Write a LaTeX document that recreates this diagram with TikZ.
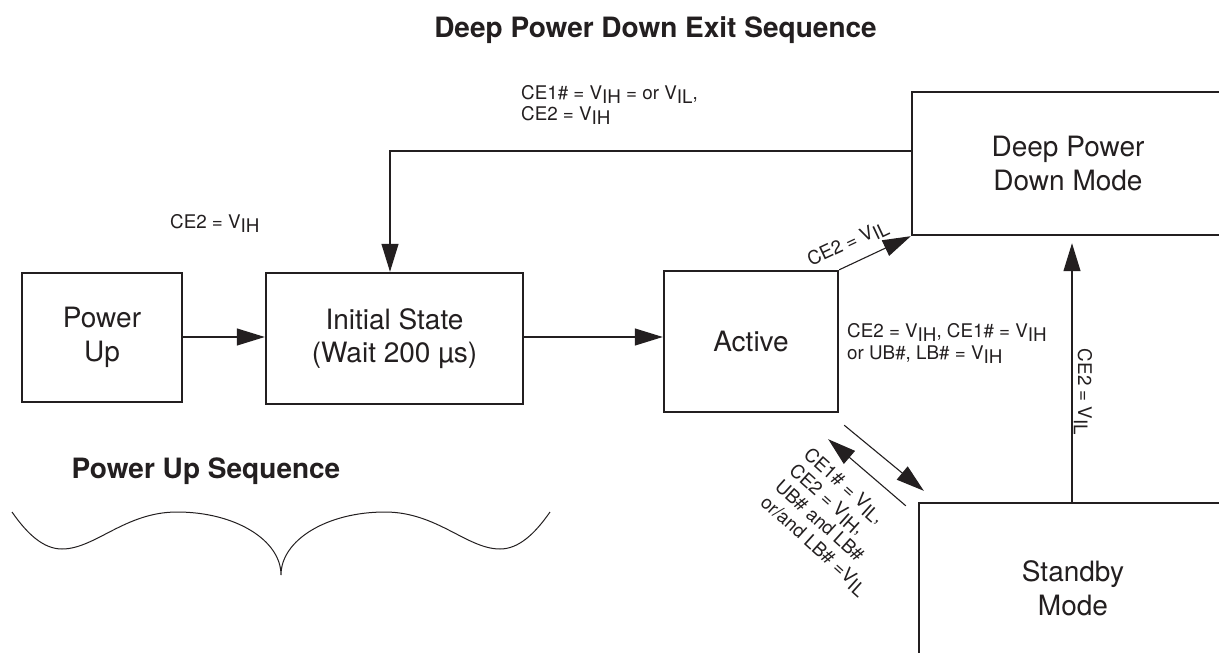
\documentclass[tikz,border=0pt]{standalone}
\usepackage{fontspec}
\setmainfont{TeX Gyre Heros}
\usetikzlibrary{arrows.meta,calc}
\definecolor{ink}{HTML}{231F20}
\newcommand{\lw}[1]{\raisebox{-0.22em}{#1}}
\tikzset{
  boxnode/.style={draw=ink, line width=2.4pt, align=center, text=ink, inner sep=0pt,
    font=\fontsize{28}{33.5}\selectfont},
  lbl/.style={text=ink, inner sep=0pt, align=left, font=\fontsize{18.8}{21.5}\selectfont},
  ttl/.style={text=ink, inner sep=0pt, font=\fontsize{28}{33}\selectfont\bfseries},
  arr/.style={draw=ink, line width=1.1pt, -{Triangle[length=28pt,width=17pt]}},
  thin/.style={draw=ink, line width=1.1pt}
}
\begin{document}
\begin{tikzpicture}[x=1pt,y=-1pt]
\useasboundingbox (0,0) rectangle (1219,653);
\fill[white] (0,0) rectangle (1219,653);
\clip (0,0) rectangle (1219,653);

% titles
\node[ttl, anchor=base] (t1) at (655.5,37) {Deep Power Down Exit Sequence};
\node[ttl, anchor=base] (t2) at (206,478) {Power Up Sequence};

% boxes
\node[boxnode, minimum width=160pt, minimum height=129pt] (pu) at (102,337.5) {Power\\Up};
\node[boxnode, minimum width=257pt, minimum height=131pt] (init) at (394.5,338.5) {Initial State\\(Wait 200 µs)};
\node[boxnode, minimum width=174pt, minimum height=141pt] (act) at (751,341.5) {Active};
\node[boxnode, minimum width=312pt, minimum height=143pt] (dpd) at (1068,163.5) {Deep Power\\Down Mode};
\node[boxnode, minimum width=308pt, minimum height=170pt] (sb) at (1073,588) {Standby\\Mode};

% connectors
\draw[arr] (pu.east |- 0,337) -- (init.west |- 0,337);
\draw[arr] (init.east |- 0,337) -- (act.west |- 0,337);
\draw[arr] ([yshift=12.5pt]dpd.west) -| ([xshift=-4.5pt]init.north);
\draw[arr] (act.north east) -- (dpd.south west)
  node[lbl, pos=0.24, sloped, above=10pt, align=center] (l1) {CE2 = V\lw{IL}};
\draw[arr] ([xshift=5pt,yshift=-12pt]act.south east) -- ([xshift=6pt,yshift=11pt]sb.north west);
\draw[arr] ([xshift=-12pt,yshift=-4pt]sb.north west) -- ([xshift=-11pt,yshift=-26pt]act.south east);
\draw[arr, shorten >=7pt] ([xshift=-1pt]sb.north) -- ([xshift=-1pt]sb.north |- dpd.south);

% labels
\node[lbl, anchor=base west] (l2) at (170,228) {CE2 = V\lw{IH}};
\node[lbl, anchor=north west] (l3) at (521,85) {CE1\# = V\lw{IH} = or V\lw{IL},\\CE2 = V\lw{IH}};
\node[lbl, anchor=north west] (l4) at (847,323.5) {CE2 = V\lw{IH}, CE1\# = V\lw{IH}\\or UB\#, LB\# = V\lw{IH}};
\node[lbl, rotate=-90] (l5) at (1083,392) {CE2 = V\lw{IL}};
\node[lbl, rotate=-42] (l6) at (835,522) {CE1\# = V\lw{IL},\\CE2 = V\lw{IH},\\UB\# and LB\#\\or/and LB\# =V\lw{IL}};

% brace curve
\draw[thin, line width=1pt] (12,512) .. controls (28,535) and (44,549) .. (62,549)
  .. controls (95,549) and (125,512) .. (177,512)
  .. controls (235,512) and (281,540) .. (281,575)
  .. controls (281,540) and (327,512) .. (385,512)
  .. controls (437,512) and (467,549) .. (500,549)
  .. controls (518,549) and (534,535) .. (550,512);
\end{tikzpicture}
\end{document}
